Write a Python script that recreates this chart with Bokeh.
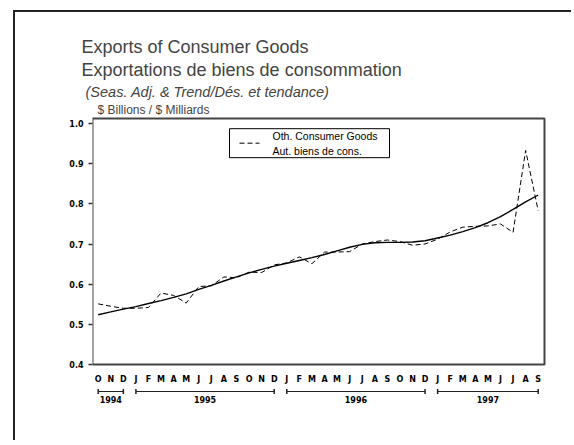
from bokeh.plotting import figure
from bokeh.models import Range1d, LinearAxis, FixedTicker, BoxAnnotation, Title
from bokeh.core.properties import value
from bokeh.embed import file_html
from bokeh.resources import INLINE

# ---------------- data ----------------
months = ["O", "N", "D",
          "J", "F", "M", "A", "M", "J", "J", "A", "S", "O", "N", "D",
          "J", "F", "M", "A", "M", "J", "J", "A", "S", "O", "N", "D",
          "J", "F", "M", "A", "M", "J", "J", "A", "S"]
month_idx = list(range(len(months)))
years = ["1994", "1995", "1996", "1997"]
year_first = [0, 3, 15, 27]
year_last = [2, 14, 26, 35]

actual = [0.551, 0.545, 0.540, 0.540, 0.542, 0.578, 0.572, 0.553, 0.594, 0.596,
          0.618, 0.616, 0.630, 0.629, 0.648, 0.653, 0.668, 0.651, 0.680, 0.680,
          0.681, 0.700, 0.706, 0.710, 0.706, 0.697, 0.700, 0.712, 0.730, 0.742,
          0.744, 0.745, 0.750, 0.729, 0.933, 0.783]
trend = [0.524, 0.531, 0.538, 0.544, 0.552, 0.559, 0.567, 0.576, 0.587, 0.597,
         0.608, 0.618, 0.628, 0.637, 0.645, 0.652, 0.659, 0.666, 0.674, 0.683,
         0.692, 0.699, 0.703, 0.704, 0.704, 0.705, 0.708, 0.715, 0.722, 0.731,
         0.741, 0.753, 0.768, 0.786, 0.805, 0.822]
y_ticks = [0.4, 0.5, 0.6, 0.7, 0.8, 0.9, 1.0]

title1 = "Exports of Consumer Goods"
title2 = "Exportations de biens de consommation"
title3 = "(Seas. Adj. & Trend/Dés. et tendance)"
ylabel = "$ Billions / $ Milliards"
legend_lines = ["Oth. Consumer Goods", "Aut. biens de cons."]

# ---------------- geometry (pixels -> data helpers) ----------------
PX_Y = 402.0      # pixels per 1.0 on y
PX_X = 12.571     # pixels per month
Y_LO, Y_HI = 0.4, 1.0 + 5 / PX_Y
X_LO, X_HI = -5.7 / PX_X, 35 + 6.3 / PX_X
Y_BOTTOM = Y_LO - 46 / PX_Y


def dx(px):
    return px / PX_X


def dy(px):
    return px / PX_Y


Y_MONTH = Y_LO - dy(15)
Y_BAR = Y_LO - dy(27)
Y_YEAR = Y_LO - dy(35)

W, H = 558, 430
ml, mt, mr, mb = 77, 104, 27, 32

p = figure(width=W, height=H, output_backend="svg", toolbar_location=None,
           x_range=Range1d(X_LO, X_HI + dx(2)),
           y_range=Range1d(Y_BOTTOM, Y_HI + dy(2)),
           x_axis_type=None, y_axis_type=None,
           min_border_left=ml, min_border_top=mt,
           min_border_right=mr, min_border_bottom=mb)
p.outline_line_color = None
p.background_fill_color = "white"
p.border_fill_color = "white"
p.styles = {"border-left": "2px solid #222", "border-top": "2px solid #222",
            "border-right": "none", "border-bottom": "none",
            "outline": "none", "box-shadow": "none",
            "margin-left": "13px", "margin-top": "10px"}

yaxis = LinearAxis(ticker=FixedTicker(ticks=y_ticks), bounds=(Y_LO, 1.0),
                   axis_line_color=None, major_tick_out=4, major_tick_in=0,
                   minor_tick_out=0, minor_tick_in=0,
                   major_tick_line_color="#333", major_tick_line_width=1.5,
                   major_label_standoff=5,
                   major_label_text_font="DejaVu Sans",
                   major_label_text_font_style="bold",
                   major_label_text_font_size="8px",
                   major_label_text_color="black")
yaxis.major_label_overrides = {t: f"{t:.1f}" for t in y_ticks}
p.add_layout(yaxis, "left")

box = BoxAnnotation(left=X_LO, right=X_HI, bottom=Y_LO, top=Y_HI,
                    fill_color=None, line_color="#444", line_alpha=1,
                    line_width=2)
p.add_layout(box)

p.line(month_idx, actual, line_color="black", line_width=1, line_dash="5 3")
p.line(month_idx, trend, line_color="black", line_width=1.4)

# month letters
p.text(x=month_idx, y=[Y_MONTH] * len(months), text=months,
       text_font=value("DejaVu Sans"), text_font_style="bold",
       text_font_size="8px", text_align="center", text_baseline="middle",
       text_color="black")
# year bars
p.segment(x0=year_first, x1=year_last, y0=[Y_BAR] * 4, y1=[Y_BAR] * 4,
          line_color="#222", line_width=1.2)
ends = year_first + year_last
p.segment(x0=ends, x1=ends, y0=[Y_BAR - dy(2.5)] * 8, y1=[Y_BAR + dy(2.5)] * 8,
          line_color="#222", line_width=1.5)
p.text(x=[(a + b) / 2 for a, b in zip(year_first, year_last)],
       y=[Y_YEAR] * 4, text=years,
       text_font=value("DejaVu Sans"), text_font_style="bold",
       text_font_size="8px", text_align="center", text_baseline="middle",
       text_color="black")

# legend (box with a dashed sample and two label lines)
LX0 = dx(229 - 97.7)
LX1 = dx(389 - 97.7)
LY_TOP = Y_LO + dy(364 - 128)
LY_BOT = Y_LO + dy(364 - 157)
leg_box = BoxAnnotation(left=LX0, right=LX1, bottom=LY_BOT, top=LY_TOP,
                        fill_color="white", fill_alpha=1, line_color="black",
                        line_alpha=1, line_width=1, level="underlay")
p.add_layout(leg_box)
p.segment(x0=[LX0 + dx(10)], x1=[LX0 + dx(30)],
          y0=[(LY_TOP + LY_BOT) / 2], y1=[(LY_TOP + LY_BOT) / 2],
          line_color="black", line_width=1, line_dash="5 3")
p.text(x=[LX0 + dx(43)] * 2,
       y=[LY_TOP - dy(7), LY_TOP - dy(22)], text=legend_lines,
       text_font=value("Liberation Sans"), text_font_size="10.5px",
       text_align="left", text_baseline="middle", text_color="black")

# titles (nearest the frame first)
p.add_layout(Title(text=ylabel, align="left", offset=5, text_font="Liberation Sans",
                   text_font_size="12px", text_font_style="normal",
                   standoff=0), "above")
p.add_layout(Title(text=title3, align="left", offset=-7, text_font="Liberation Sans",
                   text_font_size="14.5px", text_font_style="italic",
                   standoff=2), "above")
p.add_layout(Title(text=title2, align="left", offset=-11, text_font="Liberation Sans",
                   text_font_size="18px", text_font_style="normal",
                   standoff=1), "above")
p.add_layout(Title(text=title1, align="left", offset=-11, text_font="Liberation Sans",
                   text_font_size="18px", text_font_style="normal",
                   standoff=2), "above")

open("out.html", "w").write(file_html(p, INLINE))
